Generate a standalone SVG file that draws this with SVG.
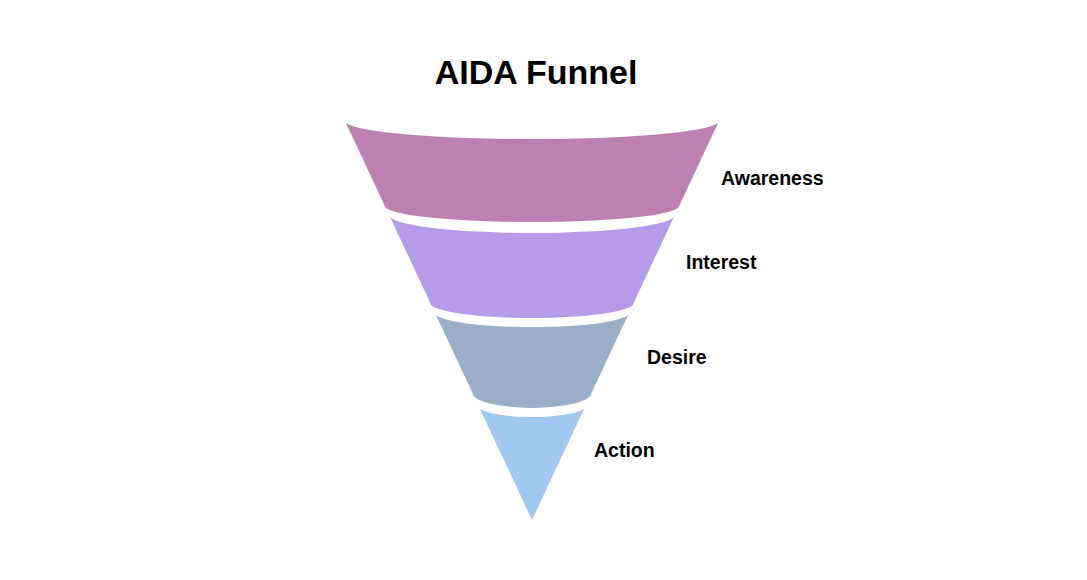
<svg xmlns="http://www.w3.org/2000/svg" width="1087" height="580" viewBox="0 0 1087 580">
<style>
.lbl{font-family:"Liberation Sans",Arial,sans-serif;font-weight:bold;font-size:19.5px;fill:#000}
.title{font-family:"Liberation Sans",Arial,sans-serif;font-weight:bold;font-size:34px;fill:#000}
</style>
<rect width="1087" height="580" fill="#fff"/>
<text class="title" x="536" y="84" text-anchor="middle">AIDA Funnel</text>
<g id="awareness">
<path d="M345,121 A187,18 0 0 0 719,121 L679.2,206 A147.2,16 0 0 1 384.8,206 Z" fill="#BD80B2"/>
<text class="lbl" x="721" y="185">Awareness</text>
</g>
<g id="interest">
<path d="M389.1,215 A142.9,18 0 0 0 674.9,215 L633.7,303 A101.7,15 0 0 1 430.3,303 Z" fill="#B79BEB"/>
<text class="lbl" x="686" y="269">Interest</text>
</g>
<g id="desire">
<path d="M435,313 A97,14 0 0 0 629,313 L591.5,393 A59.5,15 0 0 1 472.5,393 Z" fill="#9AAEC8"/>
<text class="lbl" x="647" y="364">Desire</text>
</g>
<g id="action">
<path d="M478.6,406 A53.4,11 0 0 0 585.4,406 L532,520 Z" fill="#A0C8F0"/>
<text class="lbl" x="594" y="457">Action</text>
</g>
<g id="connectors"/>
</svg>
